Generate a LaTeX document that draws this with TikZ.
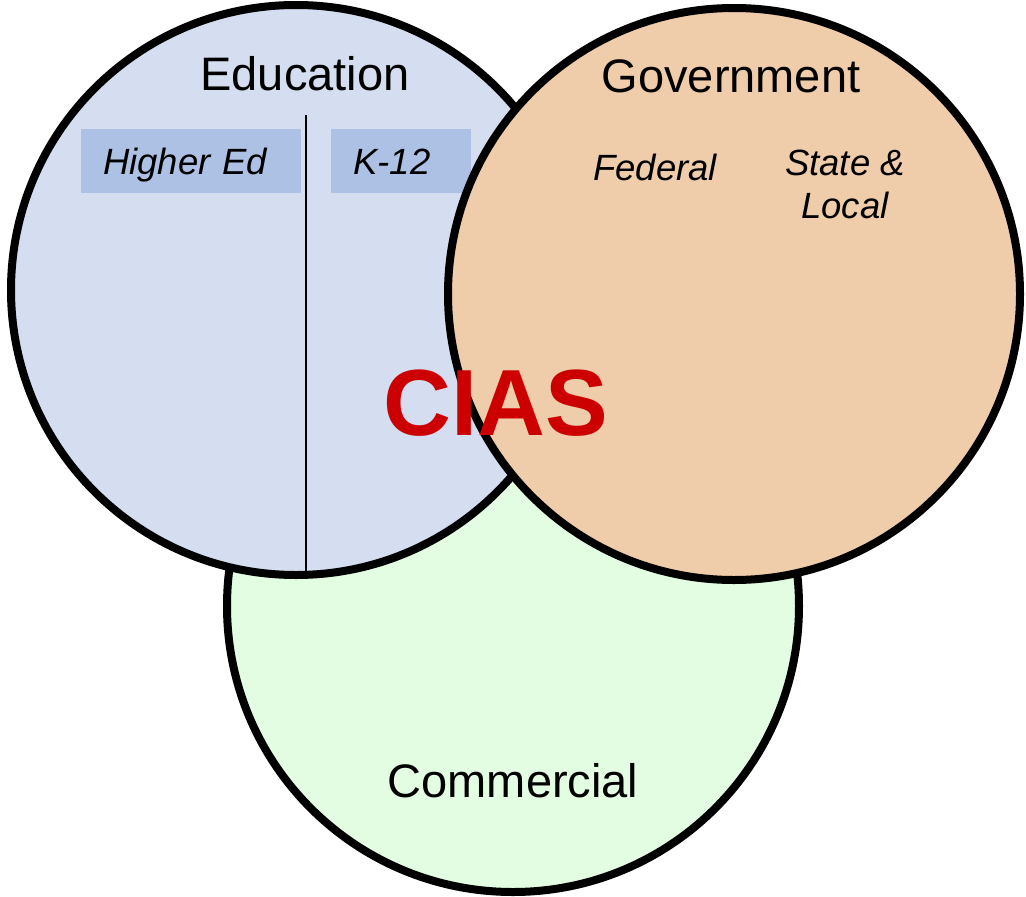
\documentclass[tikz,border=0pt]{standalone}
\usepackage{fontspec}
\setmainfont{Liberation Sans}
\usepackage{xcolor}
\usetikzlibrary{positioning}

\definecolor{edufill}{HTML}{D5DEF0}
\definecolor{edubox}{HTML}{ADC1E5}
\definecolor{govfill}{HTML}{F0CDAA}
\definecolor{comfill}{HTML}{E3FDE3}
\definecolor{ciasred}{HTML}{CC0000}

\begin{document}
\begin{tikzpicture}[x=1pt, y=-1pt,
    sector/.style={circle, draw=black, line width=8pt, inner sep=0pt},
    title/.style={anchor=base, font=\fontsize{47}{56}\selectfont},
    sub/.style={anchor=base, font=\fontsize{36.5}{43}\selectfont\itshape, align=center},
    subbox/.style={fill=edubox, inner xsep=22pt, inner ysep=0pt, minimum height=64pt,
        text height=26pt, text depth=0pt, align=left,
        font=\fontsize{36.5}{43}\selectfont\itshape}]
    \useasboundingbox (0,0) rectangle (1026,897);

    % Commercial
    \node[sector, fill=comfill, minimum size=572pt] (com) at (513,606) {};
    \node[title] (comlabel) at (513,797) {Commercial};

    % Education
    \node[sector, fill=edufill, minimum size=570pt] (edu) at (296,290) {};
    \node[title] (edulabel) at (305,90) {Education};
    \coordinate (divtop) at (306,115);
    \draw[line width=2pt] (divtop) -- (divtop |- edu.south);
    \node[subbox, text width=176pt] (higher) at (191,161) {Higher Ed};
    \node[subbox, text width=96pt, right=30pt of higher] (kschool) {K-12};

    % Government
    \node[sector, fill=govfill, minimum size=572pt] (gov) at (734,294) {};
    \node[title] (govlabel) at (731,92) {Government};
    \node[sub] (federal) at (655,180) {Federal};
    \node[sub] (statelocal) at (845,218) {State \&\\Local};

    % centre
    \node[anchor=base, text=ciasred, font=\fontsize{94}{100}\selectfont\bfseries] (cias) at (496,435) {CIAS};
\end{tikzpicture}
\end{document}
